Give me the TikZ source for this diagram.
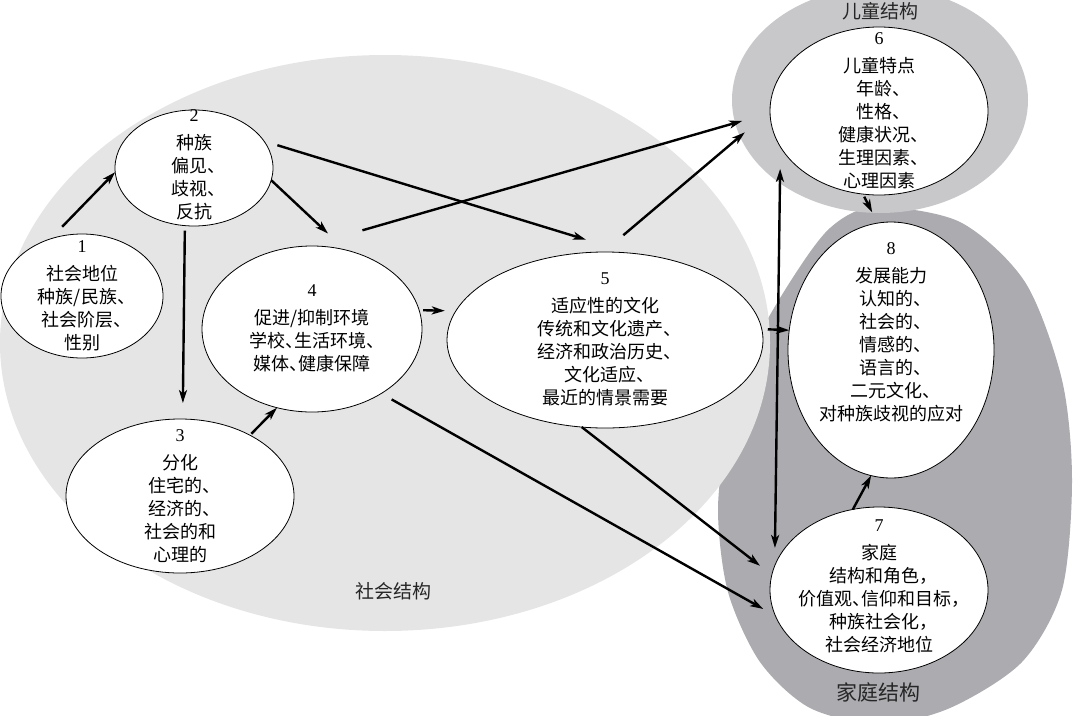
\documentclass[tikz,border=0pt]{standalone}
\usepackage{fontspec}
\setmainfont{Liberation Serif}
\newfontfamily\cjk[RawFeature=+halt]{Noto Sans CJK SC}
\usetikzlibrary{shapes.geometric,arrows.meta}

\definecolor{socgray}{RGB}{229,229,229}
\definecolor{kidgray}{RGB}{200,200,203}
\definecolor{famgray}{RGB}{171,171,176}

\newcommand\nr[1]{{\rmfamily#1}\\[5pt]}
\newcommand\ntext[2][-4pt]{\makebox[0pt]{\smash{\raisebox{#1}{\begin{tabular}{@{}c@{}}#2\end{tabular}}}}}

\begin{document}
\begin{tikzpicture}[
		x=1pt, y=-1pt
		,el/.style={ellipse, draw, fill=white, line width=.8pt, inner sep=0pt, outer sep=0pt, font=\cjk\fontsize{18}{23}\selectfont}
		,ar/.style={line width=2.4pt, -{Stealth[length=13pt,width=8pt,inset=3.5pt]}}
		,area/.style={font=\cjk\fontsize{19}{23}\selectfont, text=black!85}
	]
		\useasboundingbox (0,0) rectangle (1076,715);
		% the three structures
		\fill[famgray] plot[smooth cycle] coordinates {(875,207) (960,222) (1025,282) (1062,380) (1072,480) (1062,590) (1022,662) (950,708) (880,724) (810,708) (760,662) (728,592) (718,510) (728,430) (752,350) (790,282) (830,228)};
		\fill[kidgray] (880,100) ellipse [x radius=148, y radius=113];
		\fill[socgray] (385,343) ellipse [x radius=385, y radius=288];
		\node[area] (kidlab) at (880,11) {儿童结构};
		\node[area] (soclab) at (393,591) {社会结构};
		\node[area, font=\cjk\fontsize{21}{25}\selectfont] (famlab) at (878,692) {家庭结构};

		\node[el, minimum width=162pt, minimum height=124pt] (n1) at (82,296)
			{\ntext[-5pt]{\nr{1}社会地位\\种族/民族、\\社会阶层、\\性别}};
		\node[el, minimum width=158pt, minimum height=116pt] (n2) at (194,168)
			{\ntext[-2pt]{\nr{2}种族\\偏见、\\歧视、\\反抗}};
		\node[el, minimum width=228pt, minimum height=154pt] (n3) at (180,496)
			{\ntext[-5pt]{\nr{3}分化\\住宅的、\\经济的、\\社会的和\\心理的}};
		\node[el, minimum width=220pt, minimum height=166pt] (n4) at (312,329)
			{\ntext{\nr{4}促进/抑制环境\\学校、生活环境、\\媒体、健康保障}};
		\node[el, minimum width=316pt, minimum height=176pt] (n5) at (605,340)
			{\ntext{\nr{5}适应性的文化\\传统和文化遗产、\\经济和政治历史、\\文化适应、\\最近的情景需要}};
		\node[el, minimum width=218pt, minimum height=168pt] (n6) at (879,111)
			{\ntext[-5pt]{\nr{6}儿童特点\\年龄、\\性格、\\健康状况、\\生理因素、\\心理因素}};
		\node[el, minimum width=206pt, minimum height=256pt] (n8) at (891,350)
			{\ntext[13pt]{\nr{8}发展能力\\认知的、\\社会的、\\情感的、\\语言的、\\二元文化、\\对种族歧视的应对}};
		\node[el, minimum width=218pt, minimum height=166pt] (n7) at (879,590)
			{\ntext[-1pt]{\nr{7}家庭\\结构和角色，\\价值观、信仰和目标，\\种族社会化，\\社会经济地位}};

		% influences
		\draw[ar, shorten <=17pt] (n1.119) -- (n2.183);
		\draw[ar, shorten >=24pt] (n2.351) -- (n4.67);
		\draw[ar, shorten <=5pt, shorten >=16pt] (n2.261) -- (n3.88);
		\draw[ar, shorten <=14pt, shorten >=46pt] (n2.21) -- (n5.74);
		\draw[ar, shorten <=2pt] (n3.41) -- (n4.246);
		\draw[ar, shorten <=4pt, shorten >=11pt] (n4.10) -- (n5.169);
		\draw[ar, shorten <=57pt, shorten >=29pt] (n4.93) -- (n6.181);
		\draw[ar, shorten <=26pt, shorten >=33pt] (n5.91) -- (n6.180);
		\draw[ar, shorten <=12pt, shorten >=14pt] (n4.317) -- (n7.194);
		\draw[ar, shorten >=15pt] (n5.255) -- (n7.172);
		\draw[ar, shorten <=6pt] (n5.4) -- (n8.169);
		\draw[ar, {Stealth[length=13pt,width=8pt,inset=3.5pt]}-{Stealth[length=13pt,width=8pt,inset=3.5pt]}, shorten <=22pt, shorten >=18pt] (n6.200) -- (n7.167);
		\draw[ar, shorten <=3pt, shorten >=12pt] (n6.259) -- (n8.96);
		\draw[ar] (n7.108) -- (n8.261);
	\end{tikzpicture}
\end{document}
